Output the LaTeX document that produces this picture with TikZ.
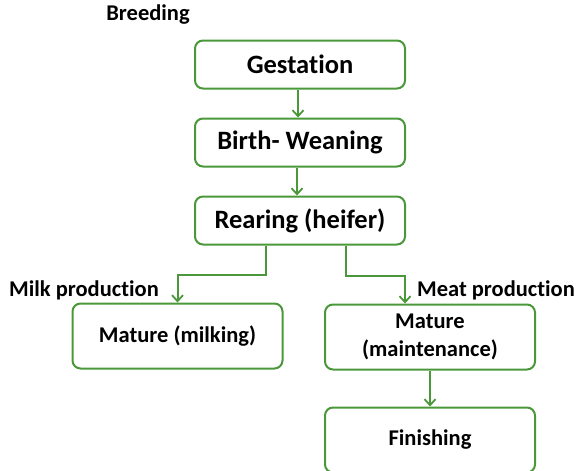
\documentclass[tikz,border=0pt]{standalone}
\usepackage{fontspec}
\setmainfont[Ligatures=NoCommon]{Carlito}
\usetikzlibrary{positioning}
\usetikzlibrary{calc}
\usetikzlibrary{arrows.meta}
\definecolor{stagegreen}{RGB}{74,152,58}
\tikzset{
    stagebox/.style={draw=stagegreen,line width=2pt,rounded corners=8pt,minimum width=210pt,align=center,font=\bfseries\fontsize{22.5}{28}\selectfont,inner sep=2pt},
    bigstage/.style={stagebox,minimum height=48pt,font=\bfseries\fontsize{26.5}{29}\selectfont},
    smallstage/.style={stagebox,minimum height=65pt},
    flow/.style={draw=stagegreen,line width=2pt,-{Straight Barb[length=6pt,width=11pt,line width=1.8pt]}},
    tag/.style={font=\bfseries\fontsize{22.5}{25}\selectfont,inner sep=0pt}
}

\begin{document}
\begin{tikzpicture}[x=1pt,y=1pt]
            \useasboundingbox (0,0) rectangle (581,-471);
            \node (gest) [bigstage] at (300,-64.5)  {Gestation};
            \node (birth) [bigstage,below=28pt of gest]  {Birth- Weaning};
            \node (rear) [bigstage,below=28pt of birth]  {Rearing (heifer)};
            \node (milk) [smallstage] at (177.5,-336)  {Mature (milking)};
            \node (maint) [smallstage] at (430,-337)  {Mature\\(maintenance)};
            \node (fin) [smallstage,below=36pt of maint]  {Finishing};

            \node (breed) [tag] at (148,-15)  {Breeding};
            \node (milkp) [tag] at (84,-290)  {Milk production};
            \node (meatp) [tag] at (496,-290)  {Meat production};

            \draw[flow] ([xshift=-2pt]gest.south) -- ([xshift=-2pt]birth.north);
            \draw[flow] ([xshift=-3pt]birth.south) -- ([xshift=-3pt]rear.north);
            \draw[flow] ([xshift=-34pt]rear.south) |- ([yshift=28pt]milk.north) -- (milk.north);
            \draw[flow] ([xshift=46pt]rear.south) |- ([xshift=-25pt,yshift=28pt]maint.north) -- ([xshift=-25pt]maint.north);
            \draw[flow] (maint.south) -- (fin.north);
        \end{tikzpicture}
\end{document}
